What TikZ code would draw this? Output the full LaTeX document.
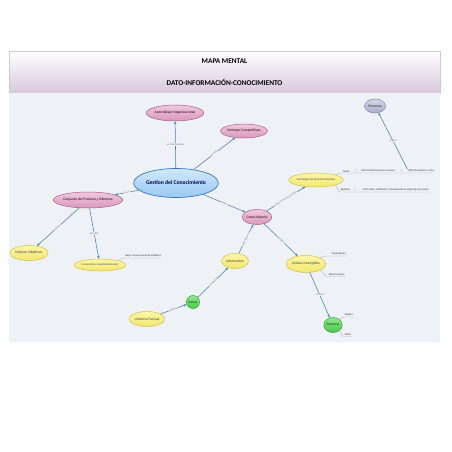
\documentclass[tikz,border=0pt]{standalone}
\usepackage{fontspec}
\setmainfont{Carlito}
\usetikzlibrary{arrows.meta,shapes.geometric,calc}
\definecolor{bgc}{HTML}{EEF1F6}
\definecolor{titlelav}{HTML}{D6C8DE}
\definecolor{pinkt}{HTML}{F0C8DE}
\definecolor{pinkd}{HTML}{D898BE}
\definecolor{pinkb}{HTML}{A8608A}
\definecolor{yelt}{HTML}{FCF6A8}
\definecolor{yeld}{HTML}{F2E870}
\definecolor{yelb}{HTML}{D0C050}
\definecolor{blut}{HTML}{D0E8FC}
\definecolor{blud}{HTML}{98C8F4}
\definecolor{blub}{HTML}{3A78C0}
\definecolor{grnt}{HTML}{90E890}
\definecolor{grnd}{HTML}{48C848}
\definecolor{grnb}{HTML}{30A030}
\definecolor{gryt}{HTML}{D4D6EA}
\definecolor{gryd}{HTML}{A8ACCC}
\definecolor{gryb}{HTML}{7C82AA}
\definecolor{connc}{HTML}{4C7CB0}
\tikzset{
  nodefont/.style={font=\fontsize{3.7}{4}\selectfont},
  pinknode/.style={ellipse, draw=pinkb, line width=0.5pt, top color=pinkt, bottom color=pinkd, inner sep=0pt, nodefont, text=black!80!purple},
  yellownode/.style={ellipse, draw=yelb, line width=0.5pt, top color=yelt, bottom color=yeld, inner sep=0pt, nodefont, text=black!85!yellow},
  greennode/.style={draw=grnb, line width=0.5pt, top color=grnt, bottom color=grnd, inner sep=0pt, nodefont, text=black!75!green},
  greynode/.style={ellipse, draw=gryb, line width=0.5pt, top color=gryt, bottom color=gryd, inner sep=0pt, nodefont, text=black!85},
  bluenode/.style={ellipse, draw=blub, line width=0.7pt, top color=blut, bottom color=blud, inner sep=0pt, text=black!70!blue},
  leaftext/.style={font=\fontsize{2.7}{3}\selectfont, text=black!80, inner sep=0.6pt},
  leaf/.style={draw=gray!60, line width=0.35pt},
  conn/.style={draw=connc, line width=0.55pt, -{Stealth[length=3pt,width=2.4pt]}},
  lbl/.style={font=\fontsize{2.7}{3}\selectfont, text=gray!90!black, fill=bgc, inner sep=0.4pt, midway},
}
\begin{document}
\begin{tikzpicture}[x=1pt,y=-1pt]
\useasboundingbox (0,0) rectangle (452,452);
\fill[white] (0,0) rectangle (452,452);
% title band
\shade[top color=white, bottom color=titlelav] (9,51) rectangle (440,93);
\draw[gray!40, line width=0.4pt] (9,51) rectangle (440,93);
\draw[gray!70, line width=0.6pt] (9,93) -- (440,93);
\node[font=\fontsize{7.3}{8}\selectfont\bfseries, text=black] (t1) at (224.5,61) {MAPA MENTAL};
\node[font=\fontsize{7.3}{8}\selectfont\bfseries, text=black] (t2) at (224.5,82) {DATO-INFORMACIÓN-CONOCIMIENTO};
% diagram background
\fill[bgc] (9,93.3) rectangle (440,342);

% main nodes
\node[bluenode, minimum width=80, minimum height=29] (gest) at (176,183) {\fontsize{5.6}{6}\selectfont\bfseries Gestion del Conocimiento};
\node[pinknode, minimum width=52, minimum height=16] (apr) at (175,113) {Aprendizaje Organizacional};
\node[pinknode, minimum width=42, minimum height=14] (vent) at (244,131) {Ventajas Competitivas};
\node[pinknode, minimum width=60, minimum height=16] (conj) at (88,200) {Conjunto de Procesos y Sistemas};
\node[yellownode, minimum width=33, minimum height=15] (mej) at (29,253) {Mejorar Objetivos};
\node[yellownode, minimum width=38, minimum height=12] (inc) at (100,265) {\fontsize{2.8}{3}\selectfont Incremento el capital intelectual};
\node[pinknode, minimum width=29, minimum height=15] (con) at (257,217) {Conocimiento};
\node[yellownode, minimum width=41, minimum height=14] (conv) at (316,180) {\fontsize{3}{3}\selectfont Convergencia del Conocimiento};
\node[greynode, minimum width=21, minimum height=14] (pers) at (375,106) {Personas};
\node[yellownode, minimum width=27, minimum height=15] (inf) at (235,261) {Informacion};
\node[greennode, circle, minimum size=13] (dat) at (193,302) {Datos};
\node[yellownode, minimum width=32, minimum height=15] (univ) at (147,319) {Universo Factual};
\node[yellownode, minimum width=36, minimum height=17] (act) at (306,264) {Activos Intangibles};
\node[greennode, ellipse, minimum width=18, minimum height=15] (emp) at (333,325) {Empresa};

% leaf texts
\node[leaftext, anchor=south] (mejc) at (143,258) {mejor consecuencia de objetivos};
\draw[leaf] (inc.north east) to[out=25,in=180] (mejc.south west) -- (mejc.south east);

\node[leaftext, anchor=south west] (tac) at (342,173) {Tacito};
\node[leaftext, anchor=south] (s1) at (356,173) {|};
\node[leaftext, anchor=south] (uni) at (378,173) {Únicamente la persona conoce};
\node[leaftext, anchor=south] (s2) at (402,173) {|};
\node[leaftext, anchor=south] (dif) at (421,173) {difícil de explicar a otro};
\draw[leaf] (conv.north east) to[out=20,in=180] (tac.south west) -- (dif.south east);

\node[leaftext, anchor=south west] (exp) at (340,192) {Explícito};
\node[leaftext, anchor=south] (s3) at (355,192) {|};
\node[leaftext, anchor=south] (art) at (396,192) {Articulado, codificado y almacenado en algún tipo de medio};
\draw[leaf] (conv.south east) to[out=-20,in=180] (exp.south west) -- (art.south east);

\node[leaftext, anchor=south west] (cap) at (331,256) {Capacitacion};
\draw[leaf] (act.north east) to[out=30,in=180] (cap.south west) -- (cap.south east);
\node[leaftext, anchor=south west] (est) at (328,276.5) {Estructuracion};
\draw[leaf] (act.south east) to[out=-30,in=180] (est.south west) -- (est.south east);

\node[leaftext, anchor=south west] (empl) at (344,317) {Empleo};
\draw[leaf] (emp.north east) to[out=30,in=180] (empl.south west) -- (empl.south east);
\node[leaftext, anchor=south west] (dat2) at (344,336.5) {Datos};
\draw[leaf] (emp.south east) to[out=-40,in=180] (dat2.south west) -- (dat2.south east);

% connectors
\draw[conn] (gest) -- node[lbl]{es fundamento} (apr);
\draw[conn] (gest) -- node[lbl, sloped]{genera} (vent);
\draw[conn] (gest) -- node[lbl, sloped]{es un} (conj);
\draw[conn] (gest) -- node[lbl, sloped]{utiliza} (con);
\draw[conn] (conj) -- node[lbl, sloped]{busca} (mej);
\draw[conn] (conj) -- node[lbl]{permite} (inc);
\draw[conn] (con) -- node[lbl, sloped]{tipos de conocimiento} (conv);
\draw[conn] (inf) -- node[lbl, sloped]{organizado en} (con);
\draw[conn] (con) -- node[lbl, sloped]{también} (act);
\draw[conn] (dat) -- node[lbl, sloped]{contexto} (inf);
\draw[conn] (univ) -- node[lbl, sloped]{hechos} (dat);
\draw[conn] (act) -- node[lbl]{se crea} (emp);
\draw[conn] (dif.north west) -- node[lbl]{a otros} (pers);
\end{tikzpicture}
\end{document}
